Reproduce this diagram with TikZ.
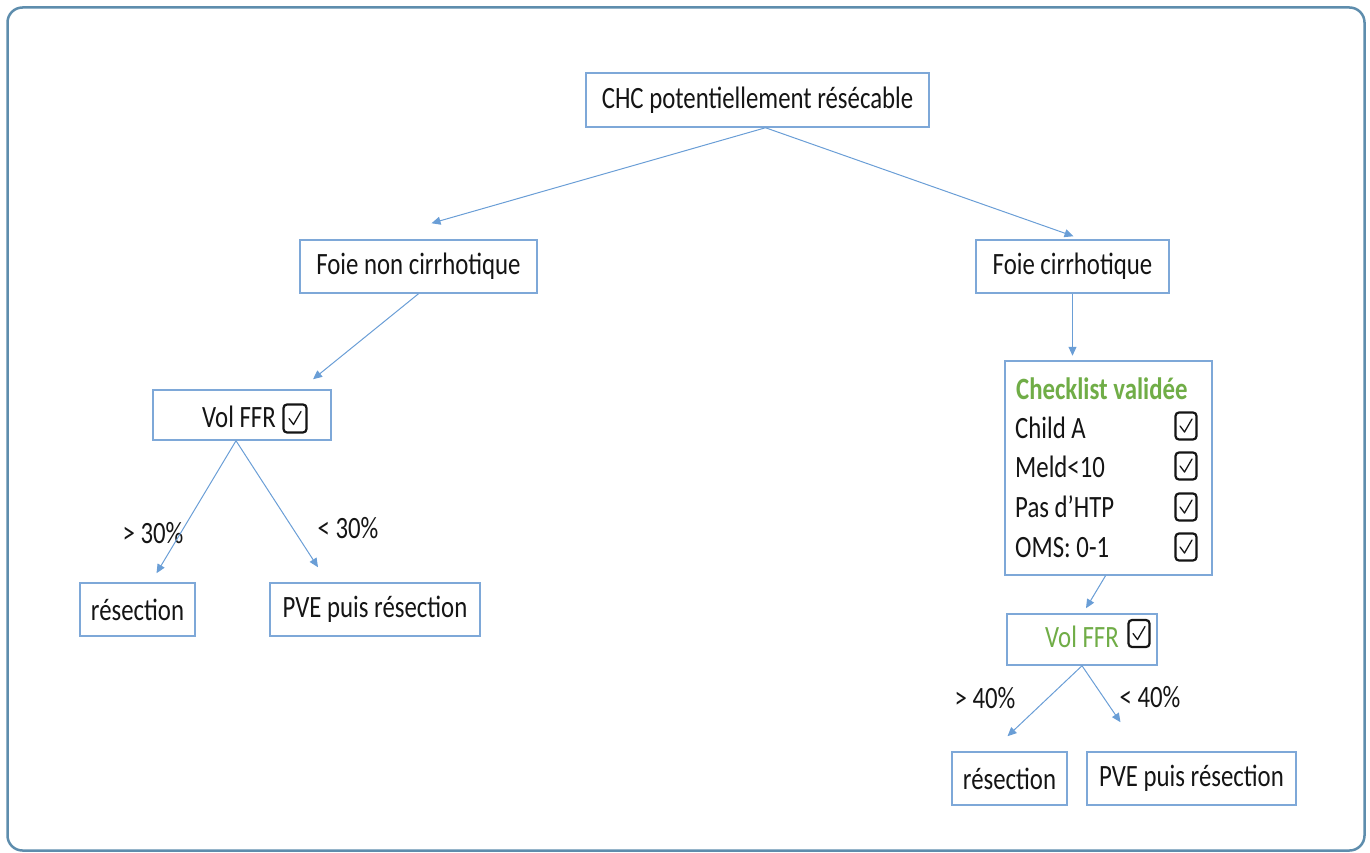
\documentclass[tikz,border=0pt]{standalone}
\usepackage{fontspec}
\setmainfont[FakeStretch=0.8]{Carlito}
\usetikzlibrary{arrows.meta,calc}
\definecolor{frameblue}{HTML}{5E8DAD}
\definecolor{boxblue}{HTML}{7EA8D8}
\definecolor{arrblue}{HTML}{6A9ED6}
\definecolor{txt}{HTML}{151515}
\definecolor{okgreen}{HTML}{70AD47}
\tikzset{
  box/.style={draw=boxblue, line width=1.5, inner sep=0, fill=white},
  lbl/.style={text=txt, inner sep=0, font=\fontsize{31}{36}\selectfont},
  conn/.style={draw=arrblue, line width=1, -{Triangle[length=9,width=8]}},
  ckb/.style={draw=txt, line width=2.2, rounded corners=3.5, minimum width=21, minimum height=27, inner sep=0},
  ckm/.style={draw=txt, line width=1.3, line join=round, line cap=round},
}
\newcommand\checkmk[1]{\draw[ckm] ($(#1.center)+(-6,0)$) -- ($(#1.center)+(-1.5,6)$) -- ($(#1.center)+(6,-7)$);}
\begin{document}
\begin{tikzpicture}[x=1pt,y=-1pt]
\useasboundingbox (0,0) rectangle (1370,853);
\draw[frameblue, line width=2.5, rounded corners=15] (7.5,7.5) rectangle (1364.5,850.5);

% nodes
\node[box, minimum width=343, minimum height=54] (chc) at (757.5,100) {};
\node[lbl] (chct) at (chc) {CHC potentiellement résécable};
\node[box, minimum width=237, minimum height=53] (fnc) at (418.5,266.5) {};
\node[lbl] (fnct) at (fnc) {Foie non cirrhotique};
\node[box, minimum width=193, minimum height=53] (fc) at (1072.5,266.5) {};
\node[lbl] (fct) at (fc) {Foie cirrhotique};

\node[box, minimum width=178, minimum height=50] (vol1) at (242,415) {};
\node[lbl, anchor=east] (vol1t) at (276,417) {Vol FFR};
\node[ckb, minimum width=23, minimum height=28] (vc1) at (295,418.5) {};
\checkmk{vc1}

\node[box, minimum width=115, minimum height=53] (res1) at (137.5,609.5) {};
\node[lbl] (res1t) at (res1) {résection};
\node[box, minimum width=210, minimum height=53] (pve1) at (375,609.5) {};
\node[lbl] (pve1t) at (pve1) {PVE puis résection};

\node[box, minimum width=207, minimum height=214] (chk) at (1108.5,468) {};
\node[lbl, anchor=west, text=okgreen, font=\fontsize{31}{36}\selectfont\bfseries] (chkt) at (1016,389) {Checklist validée};
\node[lbl, anchor=west] (r1) at (1015,428) {Child A};
\node[lbl, anchor=west] (r2) at (1015,467) {Meld<10};
\node[lbl, anchor=west] (r3) at (1015,507) {Pas d’HTP};
\node[lbl, anchor=west] (r4) at (1015,548) {OMS: 0-1};
\node[ckb] (c1) at (1186,426) {};
\node[ckb] (c2) at (1186,466) {};
\node[ckb] (c3) at (1186,507) {};
\node[ckb] (c4) at (1186,547) {};
\checkmk{c1}\checkmk{c2}\checkmk{c3}\checkmk{c4}

\node[box, minimum width=150, minimum height=51] (vol2) at (1082,639.5) {};
\node[lbl, anchor=east, text=okgreen] (vol2t) at (1119,637) {Vol FFR};
\node[ckb] (vc2) at (1139,633.5) {};
\checkmk{vc2}

\node[box, minimum width=115, minimum height=53] (res2) at (1009.5,778.5) {};
\node[lbl] (res2t) at (res2) {résection};
\node[box, minimum width=209, minimum height=53] (pve2) at (1191.5,778.5) {};
\node[lbl] (pve2t) at (pve2) {PVE puis résection};

% edge labels
\node[lbl] (g30) at (153,533) {> 30\%};
\node[lbl] (l30) at (348,528) {< 30\%};
\node[lbl] (g40) at (985,698) {> 40\%};
\node[lbl] (l40) at (1150,697) {< 40\%};

% connectors
\draw[conn] ($(chc.south)+(8,0)$) -- ($(fnc.north)+(13,-16)$);
\draw[conn] ($(chc.south)+(8,0)$) -- ($(fc.north)+(1,-3)$);
\draw[conn] ($(fnc.south)+(0,0)$) -- ($(vol1.north)+(71,-10)$);
\draw[conn] (fc.south) -- ($(fc.south)+(0,62)$);
\draw[conn] ($(vol1.south)+(-6,0)$) -- ($(res1.north)+(19,-9)$);
\draw[conn] ($(vol1.south)+(-6,0)$) -- ($(pve1.north)+(-57,-15)$);
\draw[conn] ($(chk.south)+(-3,0)$) -- ($(vol2.north)+(4,-5)$);
\draw[conn] ($(vol2.south)+(0,0)$) -- ($(res2.north)+(-2,-15)$);
\draw[conn] ($(vol2.south)+(0,0)$) -- ($(pve2.north)+(-71,-29)$);
\end{tikzpicture}
\end{document}
